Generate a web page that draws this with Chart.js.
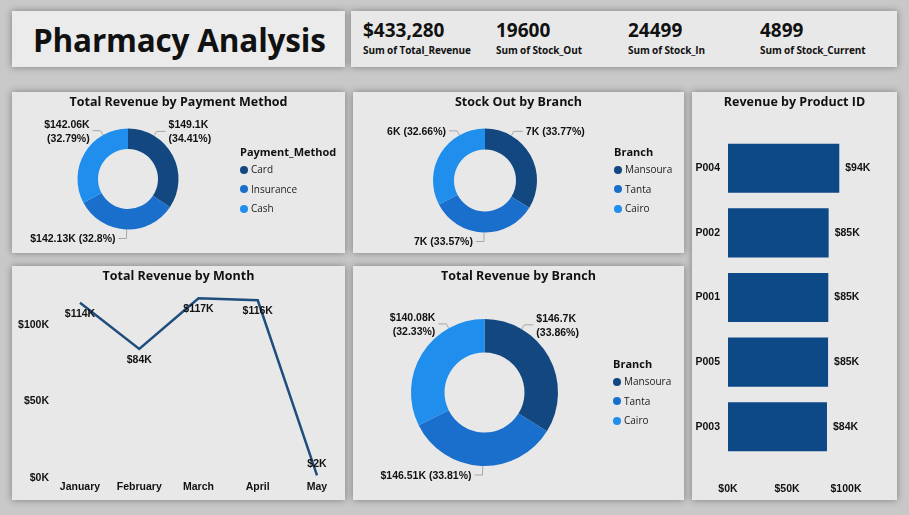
<!doctype html>
<html lang="en">
<head>
<meta charset="utf-8">
<title>Pharmacy Analysis</title>
<script src="https://cdn.jsdelivr.net/npm/chart.js@4.4.1/dist/chart.umd.min.js"></script>
<style>
  body { margin: 0; width: 909px; height: 515px; overflow: hidden; background: #c8c8c8; position: relative; font-family: 'Open Sans', sans-serif; color: #111; }
  .panel { position: absolute; background: #e8e8e8; box-shadow: 0 0 7px rgba(0,0,0,.38); }
  .panel canvas { position: absolute; left: 0; top: 0; }
  .ptitle { position: absolute; left: 0; top: 0; width: 100%; text-align: center; font-weight: 700; font-size: 12.5px; line-height: 19px; }
  .legend { position: absolute; font-size: 10px; color: #222; }
  .legend .lt { font-weight: 700; font-size: 11px; line-height: 16px; color: #111; }
  .legend .li { line-height: 19.5px; white-space: nowrap; }
  .legend .dot { display: inline-block; width: 8px; height: 8px; border-radius: 50%; margin-right: 3px; vertical-align: -0.5px; }
  #title { font-weight: 700; font-size: 31.5px; position: absolute; left: 21px; top: 7px; letter-spacing: -0.2px; }
  .kpi { position: absolute; top: 8px; }
  .kpi .v { font-weight: 700; font-size: 19px; line-height: 22px; }
  .kpi .l { font-weight: 700; font-size: 10px; line-height: 14px; margin-top: 2px; letter-spacing: -0.1px; }
</style>
</head>
<body>

<div class="panel" style="left:12px;top:11px;width:333px;height:56px;background:#ebebeb"><div id="title">Pharmacy Analysis</div></div>
<div class="panel" id="kpis" style="left:351px;top:11px;width:546px;height:56px"></div>

<div class="panel" id="p-pay" style="left:12px;top:92px;width:333px;height:161px"><canvas id="pay" width="333" height="161"></canvas><div class="ptitle">Total Revenue by Payment Method</div></div>
<div class="panel" id="p-stock" style="left:353px;top:92px;width:331px;height:161px"><canvas id="stock" width="331" height="161"></canvas><div class="ptitle">Stock Out by Branch</div></div>
<div class="panel" style="left:12px;top:266px;width:333px;height:234px"><canvas id="month" width="333" height="234"></canvas><div class="ptitle">Total Revenue by Month</div></div>
<div class="panel" id="p-branch" style="left:353px;top:266px;width:331px;height:234px"><canvas id="branch" width="331" height="234"></canvas><div class="ptitle">Total Revenue by Branch</div></div>
<div class="panel" style="left:692px;top:92px;width:205px;height:408px"><canvas id="product" width="205" height="408"></canvas><div class="ptitle">Revenue by Product ID</div></div>

<script>
// datos
var payMethods = ['Card', 'Insurance', 'Cash'];
var payRevenue = [149096, 142127, 142057];

var branches = ['Mansoura', 'Tanta', 'Cairo'];
var branchStockOut = [6619, 6580, 6401];
var branchRevenue = [146698, 146506, 140076];

var months = ['January', 'February', 'March', 'April', 'May'];
var monthRevenue = [114300, 84200, 117200, 115900, 1680];

var products = ['P004', 'P002', 'P001', 'P005', 'P003'];
var productRevenue = [94300, 85300, 85000, 84800, 83880];

var stockIn = 24499;

var sliceColors = ['#12477f', '#1a6fcd', '#1f8eec'];
var labelFont = 'bold 10.5px "Liberation Sans"';

function sum(a) { return a.reduce(function (s, v) { return s + v; }, 0); }
function trim(s) { return s.replace(/\.?0+$/, ''); }
function moneyK(v) { return '$' + trim((v / 1000).toFixed(2)) + 'K'; }
function roundK(v) { return Math.round(v / 1000) + 'K'; }

// tarjetas
var totalOut = sum(branchStockOut);
var kpis = [
  ['$' + sum(payRevenue).toLocaleString('en-US'), 'Sum of Total_Revenue', 12],
  [String(totalOut), 'Sum of Stock_Out', 145],
  [String(stockIn), 'Sum of Stock_In', 277],
  [String(stockIn - totalOut), 'Sum of Stock_Current', 409]
];
kpis.forEach(function (k) {
  var d = document.createElement('div');
  d.className = 'kpi';
  d.style.left = k[2] + 'px';
  d.innerHTML = '<div class="v">' + k[0] + '</div><div class="l">' + k[1] + '</div>';
  document.getElementById('kpis').appendChild(d);
});

// leyendas
function legend(panel, title, labels, left, top) {
  var d = document.createElement('div');
  d.className = 'legend';
  d.style.left = left + 'px';
  d.style.top = top + 'px';
  var html = '<div class="lt">' + title + '</div>';
  labels.forEach(function (l, i) {
    html += '<div class="li"><span class="dot" style="background:' + sliceColors[i] + '"></span>' + l + '</div>';
  });
  d.innerHTML = html;
  document.getElementById(panel).appendChild(d);
}
legend('p-pay', 'Payment_Method', payMethods, 228, 52);
legend('p-stock', 'Branch', branches, 261, 52);
legend('p-branch', 'Branch', branches, 260, 90);

// etiquetas de las porciones con línea guía
var sliceLabels = {
  id: 'sliceLabels',
  afterDatasetsDraw: function (chart, args, opts) {
    var ctx = chart.ctx;
    var data = chart.data.datasets[0].data;
    var total = sum(data);
    ctx.save();
    ctx.font = labelFont;
    ctx.textBaseline = 'middle';
    chart.getDatasetMeta(0).data.forEach(function (arc, i) {
      var p = arc.getProps(['x', 'y', 'startAngle', 'endAngle', 'outerRadius']);
      var mid = (p.startAngle + p.endAngle) / 2;
      mid = Math.atan2(Math.sin(mid), Math.cos(mid));
      var upper = Math.sin(mid) < 0;
      var a = (mid + (upper ? -Math.PI / 2 : Math.PI / 2)) / 2;
      var r = p.outerRadius;
      var r1 = r + (upper ? 5 : 9);
      var x0 = p.x + r * Math.cos(a), y0 = p.y + r * Math.sin(a);
      var x1 = p.x + r1 * Math.cos(a), y1 = p.y + r1 * Math.sin(a);
      var right = Math.cos(a) >= 0;
      var x2 = x1 + (right ? 9 : -8);
      ctx.strokeStyle = '#a8a8a8';
      ctx.lineWidth = 1;
      ctx.beginPath();
      ctx.moveTo(x0, y0); ctx.lineTo(x1, y1); ctx.lineTo(x2, y1);
      ctx.stroke();
      var val = opts.format(data[i]);
      var pct = '(' + trim((data[i] / total * 100).toFixed(2)) + '%)';
      var lines = (opts.twoLine && upper) ? [val, pct] : [val + ' ' + pct];
      ctx.fillStyle = '#111';
      ctx.textAlign = right ? 'left' : 'right';
      lines.forEach(function (t, j) {
        ctx.fillText(t, x2 + (right ? 3 : -3), y1 + 1 + (j - (lines.length - 1) / 2) * 14);
      });
    });
    ctx.restore();
  }
};

function donut(id, labels, values, radius, cutout, padding, format, twoLine) {
  return new Chart(document.getElementById(id), {
    type: 'doughnut',
    data: {
      labels: labels,
      datasets: [{ data: values, backgroundColor: sliceColors, borderWidth: 0 }]
    },
    options: {
      responsive: false, animation: false,
      radius: radius, cutout: cutout,
      layout: { padding: padding },
      plugins: {
        legend: { display: false },
        tooltip: { enabled: false },
        sliceLabels: { format: format, twoLine: twoLine }
      }
    },
    plugins: [sliceLabels]
  });
}

donut('pay', payMethods, payRevenue, 50.5, '59.4%', { left: 0, right: 101, top: 24, bottom: 11 }, moneyK, true);
donut('stock', branches, branchStockOut, 52, '59.6%', { left: 0, right: 67, top: 24, bottom: 8 }, roundK, false);
donut('branch', branches, branchRevenue, 73.5, '54.4%', { left: 0, right: 68, top: 24, bottom: 5 }, moneyK, true);

// línea por mes
var pointLabels = {
  id: 'pointLabels',
  afterDatasetsDraw: function (chart) {
    var ctx = chart.ctx;
    var data = chart.data.datasets[0].data;
    ctx.save();
    ctx.font = labelFont;
    ctx.fillStyle = '#111';
    ctx.textAlign = 'center';
    ctx.textBaseline = 'middle';
    chart.getDatasetMeta(0).data.forEach(function (pt, i) {
      var dy = pt.y > chart.chartArea.bottom - 25 ? -11 : 11;
      ctx.fillText('$' + Math.round(data[i] / 1000) + 'K', pt.x, pt.y + dy);
    });
    ctx.restore();
  }
};

var tickFont = { family: 'Liberation Sans', weight: 'bold', size: 10.5 };

new Chart(document.getElementById('month'), {
  type: 'line',
  data: {
    labels: months,
    datasets: [{ data: monthRevenue, borderColor: '#1e4d7e', borderWidth: 2.5, pointRadius: 0, tension: 0, fill: false }]
  },
  options: {
    responsive: false, animation: false,
    layout: { padding: { left: 0, right: 28, top: 28, bottom: 6 } },
    plugins: { legend: { display: false }, tooltip: { enabled: false } },
    scales: {
      x: { offset: false, grid: { display: false, drawTicks: false }, border: { display: false },
           afterFit: function (s) { s.height = 16; },
           ticks: { color: '#111', font: tickFont, padding: 3, maxRotation: 0, autoSkip: false } },
      y: { min: 0, max: 120000, grid: { display: false, drawTicks: false }, border: { display: false },
           afterFit: function (s) { s.width = 68; s.paddingTop = 0; s.paddingBottom = 0; },
           ticks: { stepSize: 10000, autoSkip: false, color: '#111', font: tickFont, padding: 31,
                    callback: function (v) { return v % 50000 === 0 ? '$' + v / 1000 + 'K' : null; } } }
    }
  },
  plugins: [pointLabels]
});

// barras por producto
var barLabels = {
  id: 'barLabels',
  afterDatasetsDraw: function (chart) {
    var ctx = chart.ctx;
    var data = chart.data.datasets[0].data;
    ctx.save();
    ctx.font = labelFont;
    ctx.fillStyle = '#111';
    ctx.textAlign = 'left';
    ctx.textBaseline = 'middle';
    chart.getDatasetMeta(0).data.forEach(function (bar, i) {
      ctx.fillText('$' + Math.round(data[i] / 1000) + 'K', bar.x + 6, bar.y);
    });
    ctx.restore();
  }
};

new Chart(document.getElementById('product'), {
  type: 'bar',
  data: {
    labels: products,
    datasets: [{ data: productRevenue, backgroundColor: '#0d4987', barPercentage: 0.76, categoryPercentage: 1 }]
  },
  options: {
    indexAxis: 'y',
    responsive: false, animation: false,
    layout: { padding: { left: 0, right: 51, top: 44, bottom: 6 } },
    plugins: { legend: { display: false }, tooltip: { enabled: false } },
    scales: {
      x: { min: 0, max: 100000, grid: { display: false, drawTicks: false }, border: { display: false },
           afterFit: function (s) { s.height = 35; },
           ticks: { stepSize: 50000, color: '#111', font: tickFont, padding: 24, maxRotation: 0,
                    callback: function (v) { return '$' + v / 1000 + 'K'; } } },
      y: { grid: { display: false, drawTicks: false }, border: { display: false },
           afterFit: function (s) { s.width = 36; },
           ticks: { color: '#111', font: tickFont, padding: 8 } }
    }
  },
  plugins: [barLabels]
});
</script>

</body>
</html>
